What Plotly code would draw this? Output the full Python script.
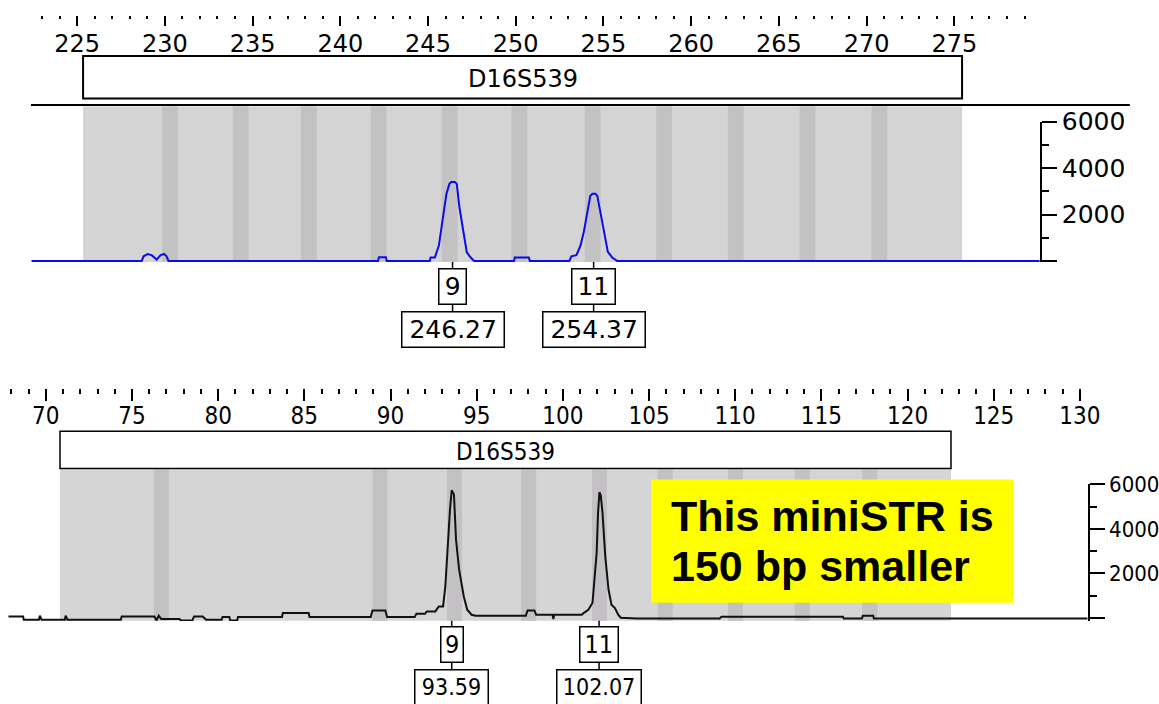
import plotly.graph_objects as go

W, H = 1159, 704
# the photographed page shows the 1159x704 paper scaled into the frame with a
# small band at top and right; place items so they land where the reference has them
SX = 1159 / 1174
SY = 704 / 720
OY = 16 * SY


def X(rx):
    return rx / SX


def Y(ry):
    return (ry - OY) / SY


def px(rx):
    return X(rx) / W


def py(ry):
    return 1 - Y(ry) / H


# ---------------- data ----------------
locus_name = "D16S539"

top_bp = [222.39, 228.68, 228.79, 229.02, 229.25, 229.53, 229.76, 229.96, 230.10, 230.21,
          242.15, 242.20, 242.60, 242.65, 245.10, 245.15, 245.39, 245.62, 245.84, 246.05,
          246.22, 246.33, 246.53, 246.64, 246.79, 247.00, 247.21, 247.42, 247.63, 249.90,
          249.95, 250.75, 250.80, 253.06, 253.17, 253.46, 253.69, 253.88, 254.08, 254.25,
          254.37, 254.54, 254.65, 254.82, 255.05, 255.25, 255.50, 255.79, 279.87]
top_rfu = [0, 0, 200, 300, 250, 60, 250, 300, 200, 0,
           0, 160, 160, 0, 0, 150, 150, 660, 1810, 2890,
           3320, 3400, 3400, 3320, 2320, 1380, 375, 160, 0, 0,
           150, 150, 0, 0, 200, 250, 660, 1250, 2110, 2800,
           2890, 2890, 2800, 2110, 1250, 390, 150, 0, 0]

bottom_bp = [67.82, 68.68, 68.72, 69.60, 69.65, 69.75, 71.10, 71.15, 71.25, 74.35,
             74.40, 76.30, 76.42, 76.55, 76.70, 77.75, 77.85, 78.50, 78.60, 79.10,
             79.30, 80.20, 80.25, 80.65, 80.70, 81.10, 81.15, 83.70, 83.75, 85.25,
             85.30, 88.85, 88.95, 89.70, 89.80, 91.40, 91.50, 92.00, 92.10, 92.60,
             92.80, 93.05, 93.18, 93.26, 93.35, 93.45, 93.55, 93.68, 93.80, 93.98,
             94.25, 94.45, 94.70, 94.94, 97.85, 97.95, 98.35, 98.45, 99.40, 99.45,
             99.50, 101.10, 101.20, 101.48, 101.72, 101.85, 101.96, 102.04, 102.12, 102.20,
             102.30, 102.46, 102.65, 102.82, 103.02, 103.21, 103.36, 104.30, 109.10, 109.20,
             116.25, 116.30, 117.35, 117.40, 118.00, 118.05, 130.45]
bottom_rfu = [60, 60, -90, -90, 90, -90, -90, 90, -90, -90,
              60, 60, -120, 90, -60, -60, -120, -120, 60, 60,
              -90, -90, 30, 30, -120, -120, 30, 30, 210, 210,
              30, 30, 330, 330, 30, 30, 180, 180, 285, 285,
              510, 510, 1410, 2615, 3520, 4870, 5740, 5550, 3520, 2165,
              960, 360, 135, 90, 90, 330, 330, 135, 135, -60,
              135, 135, 210, 360, 675, 1715, 2920, 4720, 5650, 5500,
              4720, 2765, 1260, 585, 435, 135, 0, -30, -30, 45,
              45, -30, -30, 90, 90, -30, -30]

top_locus = [225.34, 275.44]
bottom_locus = [70.82, 122.52]
top_bins = [230.30, 234.33, 238.21, 242.18, 246.23, 250.20, 254.39, 258.46, 262.54, 266.63, 270.72]
bottom_bins = [76.70, 89.39, 93.71, 98.02, 102.12, 105.94, 110.02, 113.89, 117.81]

top_alleles = ["9", "11"]
top_sizes = ["246.27", "254.37"]
top_label_pos = [246.40, 254.44]
bottom_alleles = ["9", "11"]
bottom_sizes = ["93.59", "102.07"]
bottom_label_pos = [93.55, 102.10]

rfu_ticks = [0, 2000, 4000, 6000]
rfu_ticktext = ["", "2000", "4000", "6000"]
rfu_minor = [1000, 3000, 5000]

note_lines = ["This miniSTR is", "150 bp smaller"]

# ---------------- figure ----------------
fig = go.Figure()
fig.add_trace(go.Scatter(x=top_bp, y=top_rfu, mode="lines", xaxis="x", yaxis="y",
                         line=dict(color="#0a0aee", width=2), hoverinfo="skip"))
fig.add_trace(go.Scatter(x=bottom_bp, y=bottom_rfu, mode="lines", xaxis="x2", yaxis="y2",
                         line=dict(color="#111111", width=2), hoverinfo="skip"))

shapes = []
BIN_W_TOP = 0.9
BIN_W_BOT = 0.87

shapes.append(dict(type="rect", xref="x", yref="paper", x0=top_locus[0], x1=top_locus[1],
                   y0=py(263), y1=py(108), fillcolor="#d4d4d4", line=dict(width=0), layer="below"))
for c in top_bins:
    shapes.append(dict(type="rect", xref="x", yref="paper", x0=c - BIN_W_TOP / 2, x1=c + BIN_W_TOP / 2,
                       y0=py(263), y1=py(108), fillcolor="#c2c2c2", line=dict(width=0), layer="below"))
shapes.append(dict(type="rect", xref="x2", yref="paper", x0=bottom_locus[0], x1=bottom_locus[1],
                   y0=py(621), y1=py(470), fillcolor="#d5d5d5", line=dict(width=0), layer="below"))
for c in bottom_bins:
    shapes.append(dict(type="rect", xref="x2", yref="paper", x0=c - BIN_W_BOT / 2, x1=c + BIN_W_BOT / 2,
                       y0=py(621), y1=py(470), fillcolor="#c4c1c5", line=dict(width=0), layer="below"))

# marker name boxes
shapes.append(dict(type="rect", xref="x", yref="paper", x0=top_locus[0], x1=top_locus[1],
                   y0=py(100), y1=py(57.5), fillcolor="white", line=dict(color="black", width=2),
                   layer="above"))
shapes.append(dict(type="rect", xref="x2", yref="paper", x0=bottom_locus[0], x1=bottom_locus[1],
                   y0=py(469), y1=py(432), fillcolor="white", line=dict(color="black", width=1.5),
                   layer="above"))
shapes.append(dict(type="line", xref="paper", yref="paper", x0=px(31), x1=px(1133),
                   y0=py(106.5), y1=py(106.5), line=dict(color="black", width=2), layer="above"))

# yellow note box
shapes.append(dict(type="rect", xref="paper", yref="paper", x0=px(653), x1=px(1016.5),
                   y0=py(603), y1=py(480), fillcolor="#ffff00", line=dict(width=0), layer="above"))

annotations = []
annotations.append(dict(x=sum(top_locus) / 2, xref="x", y=py(80), yref="paper", text=locus_name,
                        showarrow=False, xanchor="center", yanchor="middle",
                        font=dict(family="DejaVu Sans", size=24, color="black")))
annotations.append(dict(x=sum(bottom_locus) / 2, xref="x2", y=py(453), yref="paper", text=locus_name,
                        showarrow=False, xanchor="center", yanchor="middle",
                        font=dict(family="DejaVu Sans Condensed", size=24, color="black")))


def peak_labels(xref, pos, alleles, sizes, base_y, a_box, s_box, a_font, s_font):
    a_top = base_y + 6
    a_bot = a_top + 36
    s_top = a_bot + 7
    s_bot = s_top + 36
    bh = 36 / SY - 3
    for x, a, s, aw, sw in zip(pos, alleles, sizes, a_box, s_box):
        shapes.append(dict(type="line", xref=xref, yref="paper", x0=x, x1=x, y0=py(base_y), y1=py(a_top),
                           line=dict(color="black", width=1.5), layer="above"))
        shapes.append(dict(type="line", xref=xref, yref="paper", x0=x, x1=x, y0=py(a_bot), y1=py(s_top),
                           line=dict(color="black", width=1.5), layer="above"))
        annotations.append(dict(x=x, xref=xref, y=py((a_top + a_bot) / 2), yref="paper", text=a,
                                showarrow=False, xanchor="center", yanchor="middle",
                                width=aw / SX - 3, height=bh, borderpad=0, borderwidth=1.5,
                                bordercolor="black", bgcolor="white", font=a_font))
        annotations.append(dict(x=x, xref=xref, y=py((s_top + s_bot) / 2), yref="paper", text=s,
                                showarrow=False, xanchor="center", yanchor="middle",
                                width=sw / SX - 3, height=bh, borderpad=0, borderwidth=1.5,
                                bordercolor="black", bgcolor="white", font=s_font))


peak_labels("x", top_label_pos, top_alleles, top_sizes, 263, [29, 44], [103, 103],
            dict(family="DejaVu Sans", size=25, color="black"),
            dict(family="DejaVu Sans", size=25, color="black"))
peak_labels("x2", bottom_label_pos, bottom_alleles, bottom_sizes, 621, [24, 39], [74, 85],
            dict(family="DejaVu Sans Condensed", size=25, color="black"),
            dict(family="DejaVu Sans Condensed", size=23, color="black"))

for i, line in enumerate(note_lines):
    annotations.append(dict(x=px(671), xref="paper", y=py(516 + 50 * i), yref="paper", text=line,
                            showarrow=False, xanchor="left", yanchor="middle",
                            font=dict(family="Liberation Sans, Arial, sans-serif", size=43,
                                      color="black", weight="bold")))

xcommon = dict(anchor="free", side="bottom", showgrid=False, zeroline=False, showline=False,
               ticks="outside", tickwidth=2, tickcolor="black", tick0=0, dtick=5,
               fixedrange=True)
ycommon = dict(side="right", showgrid=False, zeroline=False, showline=True, linecolor="black",
               linewidth=2, ticks="outside", ticklen=15, tickwidth=2, tickcolor="black",
               tickvals=rfu_ticks, ticktext=rfu_ticktext,
               minor=dict(ticks="outside", ticklen=7, tickwidth=2, tickcolor="black", tickvals=rfu_minor),
               fixedrange=True)

fig.update_layout(
    width=W, height=H, autosize=False,
    margin=dict(l=0, r=0, t=0, b=0, pad=0),
    paper_bgcolor="white", plot_bgcolor="rgba(0,0,0,0)",
    showlegend=False, hovermode=False,
    xaxis=dict(domain=[px(31.4), px(1042.7)], range=[222.39, 279.87], position=0.999,
               ticklen=10, ticklabelstandoff=-2,
               minor=dict(ticks="outside", ticklen=3, tickwidth=2, tickcolor="black", dtick=1, tick0=0,
                          showgrid=False),
               tickfont=dict(family="DejaVu Sans", size=24, color="black"), **xcommon),
    yaxis=dict(anchor="x", domain=[py(263.4), py(123)], range=[-60, 6000],
               tickfont=dict(family="DejaVu Sans", size=25, color="black"), **ycommon),
    xaxis2=dict(domain=[px(8.3), px(1090.7)], range=[67.82, 130.45], position=py(388.3),
                ticklen=12, ticklabelstandoff=-5,
                minor=dict(ticks="outside", ticklen=5, tickwidth=2, tickcolor="black", dtick=1, tick0=0,
                           showgrid=False),
                tickfont=dict(family="Liberation Sans Narrow, DejaVu Sans Condensed", size=24,
                              color="black"),
                **xcommon),
    yaxis2=dict(anchor="x2", domain=[py(621.3), py(485)], range=[-150, 6000],
                tickfont=dict(family="DejaVu Sans Condensed", size=22, color="black"), **ycommon),
    shapes=shapes,
    annotations=annotations,
)

fig.write_html("out.html")
